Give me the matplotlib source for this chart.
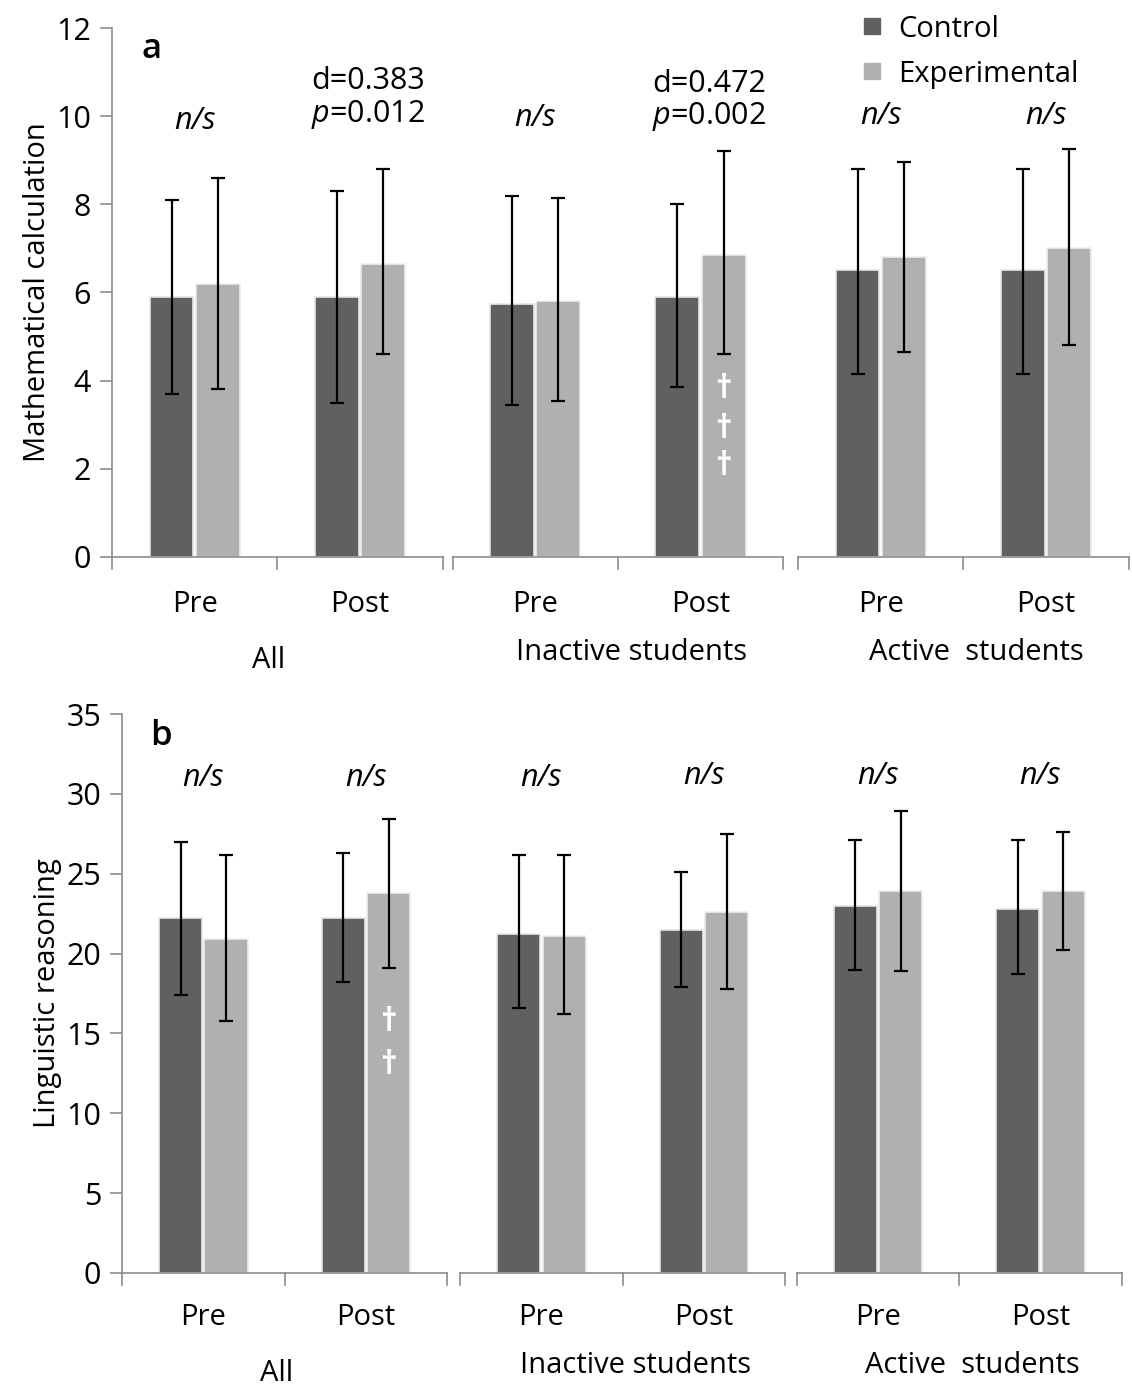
import numpy as np
import matplotlib
matplotlib.use("Agg")
import matplotlib.pyplot as plt
from matplotlib.lines import Line2D

plt.rcParams['font.family'] = ['Open Sans', 'DejaVu Sans']
plt.rcParams['mathtext.fontset'] = 'custom'
plt.rcParams['mathtext.rm'] = 'Open Sans'
plt.rcParams['mathtext.it'] = 'Open Sans:italic'

groups = ['All', 'Inactive students', 'Active  students']
times = ['Pre', 'Post']

# panel a: mathematical calculation (order: All Pre, All Post, Inact Pre, Inact Post, Act Pre, Act Post)
math_ctrl = [5.9, 5.9, 5.75, 5.9, 6.5, 6.5]
math_ctrl_lo = [3.7, 3.5, 3.45, 3.85, 4.15, 4.15]
math_ctrl_hi = [8.1, 8.3, 8.2, 8.0, 8.8, 8.8]
math_exp = [6.2, 6.65, 5.8, 6.85, 6.8, 7.0]
math_exp_lo = [3.8, 4.6, 3.55, 4.6, 4.65, 4.8]
math_exp_hi = [8.6, 8.8, 8.15, 9.2, 8.95, 9.25]
math_notes = ['n/s', 'd=0.383\n$\\it{p}$=0.012', 'n/s', 'd=0.472\n$\\it{p}$=0.002', 'n/s', 'n/s']

# panel b: linguistic reasoning
ling_ctrl = [22.2, 22.2, 21.2, 21.5, 23.0, 22.8]
ling_ctrl_lo = [17.4, 18.2, 16.6, 17.9, 19.0, 18.7]
ling_ctrl_hi = [27.0, 26.3, 26.2, 25.1, 27.1, 27.1]
ling_exp = [20.9, 23.8, 21.1, 22.6, 23.9, 23.9]
ling_exp_lo = [15.8, 19.1, 16.2, 17.8, 18.9, 20.2]
ling_exp_hi = [26.2, 28.4, 26.2, 27.5, 28.9, 27.6]
ling_notes = ['n/s'] * 6

c_dark = '#606060'
c_light = '#b0b0b0'
axis_col = '#8c8c8c'
fs = 21

fig = plt.figure(figsize=(11.32, 13.87), dpi=100)
W, H = 1132, 1387


def panel(rect, ctrl, clo, chi, exp, elo, ehi, notes, ymax, step, ylabel, letter,
          note_y, group_starts, daggers, lbl_offsets, letter_x):
    l, t, r, b = rect
    ax = fig.add_axes([l / W, 1 - b / H, (r - l) / W, (b - t) / H])
    centers = []
    for g0 in group_starts:
        centers += [g0 + 0.5, g0 + 1.5]
    centers = np.array(centers)
    ctrl = np.array(ctrl); exp = np.array(exp)
    bw = 0.265
    ax.bar(centers - 0.14, ctrl, bw, color=c_dark, edgecolor='#e6e6e6', linewidth=1.2, zorder=2)
    ax.bar(centers + 0.14, exp, bw, color=c_light, edgecolor='#eeeeee', linewidth=1.2, zorder=2)
    ax.errorbar(centers - 0.14, ctrl, yerr=[ctrl - np.array(clo), np.array(chi) - ctrl],
                fmt='none', ecolor='black', elinewidth=1.6, capsize=5, capthick=1.6, zorder=3)
    ax.errorbar(centers + 0.14, exp, yerr=[exp - np.array(elo), np.array(ehi) - exp],
                fmt='none', ecolor='black', elinewidth=1.6, capsize=5, capthick=1.6, zorder=3)

    ax.set_xlim(0, group_starts[-1] + 2.02)
    ax.set_ylim(0, ymax)
    ax.set_yticks(np.arange(0, ymax + 0.1, step))
    ax.tick_params(axis='y', length=9, width=1.2, color=axis_col, labelsize=fs + 1, pad=6)
    ax.set_xticks([])
    for s in ['top', 'right', 'bottom']:
        ax.spines[s].set_visible(False)
    ax.spines['left'].set_color(axis_col)
    ax.spines['left'].set_linewidth(1.2)
    ax.set_ylabel(ylabel, fontsize=fs, labelpad=3)

    tk = ymax * 0.022
    for gi, g0 in enumerate(group_starts):
        ax.plot([g0, g0 + 2], [0, 0], color=axis_col, lw=1.2, clip_on=False, zorder=4)
        for xx in [g0, g0 + 1, g0 + 2]:
            ax.plot([xx, xx], [0, -tk], color=axis_col, lw=1.2, clip_on=False)
        for k, tm in enumerate(times):
            ax.text(g0 + 0.5 + k, lbl_offsets[0], tm, transform=ax.get_xaxis_transform(),
                    ha='center', va='center', fontsize=fs)
        ax.text(g0 + 1 + (0.08 if gi else -0.05), lbl_offsets[1 + (1 if gi else 0)], groups[gi],
                transform=ax.get_xaxis_transform(), ha='center', va='center', fontsize=fs)

    for i, n in enumerate(notes):
        if n == 'n/s':
            ax.text(centers[i], note_y[i], n, ha='center', va='center', fontsize=fs + 1, style='italic')
        else:
            ax.text(centers[i] + 0.05, note_y[i], n, ha='center', va='center', fontsize=fs + 1,
                    linespacing=1.05)

    for idx, ys in daggers:
        for yy in ys:
            ax.text(centers[idx] + 0.14, yy, '\u2020', ha='center', va='center', color='white',
                    fontsize=fs + 2, fontweight='bold', zorder=5)

    ax.text(letter_x, ymax * 0.96, letter, fontsize=fs + 4, fontweight='semibold',
            va='center', ha='left')
    return ax


ax1 = panel((112, 28, 1132, 557), math_ctrl, math_ctrl_lo, math_ctrl_hi,
            math_exp, math_exp_lo, math_exp_hi, math_notes, 12, 2,
            'Mathematical calculation', 'a',
            [9.9, 10.4, 9.95, 10.35, 10.0, 10.0], [0, 2.06, 4.15],
            [(3, [3.8, 2.9, 2.05])], (-0.089, -0.195, -0.181), 0.18)

ax2 = panel((122, 714, 1125, 1273), ling_ctrl, ling_ctrl_lo, ling_ctrl_hi,
            ling_exp, ling_exp_lo, ling_exp_hi, ling_notes, 35, 5,
            'Linguistic reasoning', 'b',
            [31.0, 31.0, 31.0, 31.1, 31.1, 31.1], [0, 2.08, 4.15],
            [(1, [15.7, 13.0])], (-0.08, -0.179, -0.166), 0.17)

handles = [Line2D([], [], marker='s', ls='none', color=c_dark, markersize=12),
           Line2D([], [], marker='s', ls='none', color=c_light, markersize=12)]
ax1.legend(handles, ['Control', 'Experimental'], loc='upper left', bbox_to_anchor=(0.708, 1.075),
           frameon=False, fontsize=fs, handlelength=0.8, handletextpad=0.5, labelspacing=0.55)

fig.savefig('out.png', dpi=100)
